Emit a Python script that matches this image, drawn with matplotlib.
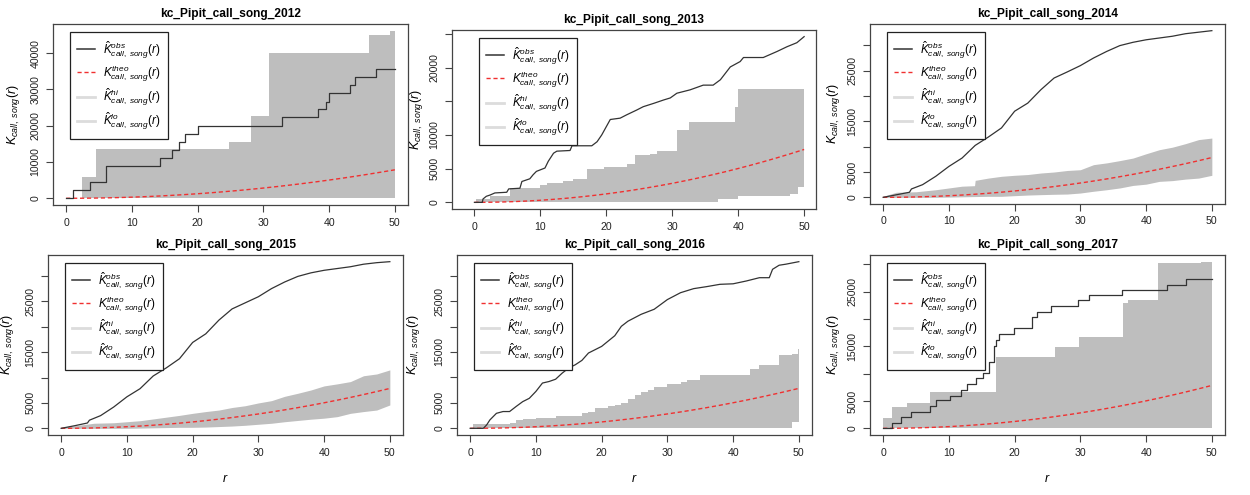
import matplotlib
matplotlib.use("Agg")
import matplotlib.pyplot as plt
from matplotlib.lines import Line2D
import numpy as np

plt.rcParams['font.family'] = ['Liberation Sans', 'DejaVu Sans']
plt.rcParams['mathtext.fontset'] = 'custom'
plt.rcParams['mathtext.rm'] = 'Liberation Sans'
plt.rcParams['mathtext.it'] = 'Liberation Sans:italic'

######################################### DATA
titles = ['kc_Pipit_call_song_2012', 'kc_Pipit_call_song_2013', 'kc_Pipit_call_song_2014',
          'kc_Pipit_call_song_2015', 'kc_Pipit_call_song_2016', 'kc_Pipit_call_song_2017']

# theoretical K (same for every year)
r_theo = [0, 2, 4, 6, 8, 10, 12, 14, 16, 18, 20, 22, 24, 26, 28, 30, 32, 34, 36, 38, 40, 42, 44, 46, 48, 50]
k_theo = [0, 13, 50, 113, 201, 314, 452, 616, 804, 1018, 1257, 1521, 1810, 2124, 2463, 2827,
          3217, 3632, 4072, 4536, 5027, 5542, 6082, 6648, 7238, 7854]

# 2012
r_obs_2012 = [0, 1.0, 3.6, 6.1, 14.3, 16.1, 17.1, 18.1, 20.0, 32.9, 38.3, 39.6, 40.0, 43.2, 43.9, 47.2, 50]
obs_2012 = [0, 2200, 4400, 8900, 11200, 13400, 15500, 17800, 20000, 22300, 24500, 26600, 28900, 31100, 33300, 35600, 35600]
r_env_2012 = [0, 2.4, 4.6, 24.7, 28.1, 30.9, 46.0, 49.3, 50]
hi_2012 = [0, 5900, 13500, 15600, 22600, 40000, 45100, 46200, 46200]
lo_2012 = [0, 0, 0, 0, 0, 0, 0, 0, 0]

# 2013
r_obs_2013 = [0, 1.2, 1.3, 1.8, 2.4, 3.1, 4.9, 5.2, 6.9, 7.2, 8.4, 8.9, 9.4, 10.7, 11.2, 12.0, 12.5, 14.5, 14.8,
              17.8, 18.6, 19.3, 20.6, 22.1, 23.1, 24.6, 25.6, 27.2, 28.7, 29.7, 30.7, 32.7, 34.7, 36.2, 37.3,
              38.8, 40.3, 40.8, 43.8, 45.9, 47.4, 48.9, 50]
obs_2013 = [0, 0, 500, 900, 1100, 1400, 1500, 2000, 2100, 3100, 3500, 4100, 4600, 5100, 6100, 7300, 7600, 7700, 8400,
            8400, 9000, 10000, 12300, 12500, 13000, 13700, 14200, 14700, 15200, 15500, 16200, 16700, 17400, 17400, 18200,
            20100, 20900, 21500, 21500, 22400, 23100, 23700, 24600]
r_env_2013 = [0.3, 2.4, 5.4, 10.0, 11.0, 13.5, 15.0, 17.0, 19.6, 23.1, 24.4, 26.6, 27.7, 30.7, 32.5, 37.0, 39.5,
              40.0, 47.9, 49.1, 50]
hi_2013 = [500, 900, 2200, 2600, 2900, 3100, 3400, 4900, 5300, 5700, 7000, 7200, 7600, 10800, 11900, 11900, 14200,
           16800, 16800, 16800, 16800]
lo_2013 = [0, 0, 0, 0, 0, 0, 0, 0, 0, 0, 0, 0, 0, 0, 0, 500, 500, 900, 1200, 2300, 2300]

# 2014
r_obs_2014 = [0, 2, 4, 4.3, 6, 8, 10, 12, 14, 16, 18, 20, 22, 24, 26, 28, 30, 32, 34, 36, 38, 40, 42, 44, 46, 48, 50]
obs_2014 = [0, 500, 1000, 1650, 2500, 4150, 6100, 7750, 10250, 11900, 13700, 17000, 18600, 21250, 23550, 24750,
            26000, 27500, 28800, 29950, 30600, 31100, 31450, 31800, 32300, 32600, 32900]
r_env_2014 = [0, 2, 5, 8, 10, 12, 13.9, 14, 16, 18, 20, 22, 24, 26, 28, 30, 32, 34, 36, 38, 40, 42, 44, 46, 48, 50]
hi_2014 = [200, 1000, 1100, 1500, 1850, 2200, 2300, 3350, 3800, 4150, 4350, 4500, 4800, 5000, 5300, 5450, 6450,
           6800, 7250, 7750, 8600, 9400, 9900, 10600, 11400, 11700]
lo_2014 = [0, 0, 0, 0, 50, 100, 150, 150, 200, 200, 330, 450, 530, 600, 650, 850, 1200, 1500, 1850, 2350, 2600,
           3150, 3300, 3600, 3800, 4350]

# 2015
r_obs_2015 = [0, 2, 4, 4.3, 6, 8, 10, 12, 14, 16, 18, 20, 22, 24, 26, 28, 30, 32, 34, 36, 38, 40, 42, 44, 46, 48, 50]
obs_2015 = [0, 500, 1050, 1600, 2500, 4200, 6200, 7800, 10300, 11900, 13700, 16900, 18600, 21300, 23500, 24700,
            25900, 27500, 28800, 29900, 30600, 31100, 31450, 31800, 32300, 32600, 32800]
r_env_2015 = [0, 2, 5, 8, 10, 12, 14, 16, 18, 20, 22, 24, 26, 28, 30, 32, 34, 36, 38, 40, 42, 44, 46, 48, 50]
hi_2015 = [200, 500, 1000, 1100, 1300, 1500, 1850, 2200, 2550, 2950, 3300, 3600, 4100, 4450, 5000, 5450, 6300,
           6900, 7550, 8350, 8750, 9200, 10350, 10700, 11500]
lo_2015 = [0, 0, 0, 0, 0, 50, 100, 150, 200, 200, 250, 350, 450, 600, 800, 1000, 1300, 1550, 1800, 2000, 2300,
           2950, 3300, 3600, 4600]

# 2016
r_obs_2016 = [0, 2, 2.5, 3, 4, 5, 6, 7, 8, 9, 10, 11, 12, 13, 14, 15, 16, 17, 18, 20, 22, 23, 24, 26, 28, 29, 30,
              32, 34, 36, 38, 40, 42, 44, 45.5, 46, 47, 48, 50]
obs_2016 = [0, 0, 650, 1650, 2950, 3300, 3300, 4300, 5250, 5900, 7250, 8900, 9200, 9650, 10850, 11850, 12500, 13350,
            14800, 16100, 18200, 20050, 21050, 22400, 23400, 24350, 25300, 26650, 27450, 27850, 28300, 28400, 28950,
            29600, 29600, 31250, 32050, 32250, 32750]
r_env_2016 = [0.5, 6, 7, 8, 10, 13, 17, 18, 19, 21, 22, 23, 24, 25, 26, 27, 28, 30, 32, 33, 35, 42, 42.5, 44, 47,
              49, 49.8, 50]
hi_2016 = [800, 1100, 1650, 1850, 2000, 2500, 2950, 3300, 3950, 4300, 4600, 5050, 5700, 6600, 7050, 7550, 8200,
           8750, 9200, 9550, 10400, 10500, 11650, 12500, 14500, 14650, 15600, 15600]
lo_2016 = [0, 0, 0, 0, 0, 0, 0, 0, 0, 0, 0, 0, 0, 0, 0, 0, 0, 0, 0, 0, 0, 0, 0, 0, 0, 1300, 1300, 1300]

# 2017
r_obs_2017 = [0, 1.3, 2.7, 4.2, 7.2, 8.0, 10.1, 11.9, 12.7, 14.2, 15.2, 16.1, 16.8, 17.2, 17.6, 19.9, 22.6, 23.4,
              25.6, 29.6, 31.3, 36.4, 43.2, 46.0, 50]
obs_2017 = [0, 1000, 2000, 3000, 4100, 5100, 6000, 7100, 8100, 9200, 10200, 12200, 15100, 16200, 17200, 18400,
            20300, 21300, 22400, 23400, 24400, 25300, 26300, 27400, 27400]
r_env_2017 = [0, 1.4, 3.6, 7.2, 17.1, 26.2, 29.8, 36.5, 37.2, 41.8, 48.4, 50]
hi_2017 = [1950, 3950, 4700, 6600, 13100, 14800, 16750, 22850, 23500, 30200, 30500, 30500]
lo_2017 = [0, 0, 0, 0, 0, 0, 0, 0, 0, 0, 0, 0]

x_ticks = [0, 10, 20, 30, 40, 50]
y_ticks_2012 = [0, 10000, 20000, 30000, 40000]
y_labels_2012 = ['0', '10000', '20000', '30000', '40000']
y_ticks_2013 = [0, 5000, 10000, 15000, 20000, 25000]
y_labels_2013 = ['0', '5000', '10000', '', '20000', '']
y_ticks_rest = [0, 5000, 10000, 15000, 20000, 25000, 30000]
y_labels_rest = ['0', '5000', '', '15000', '', '25000', '']

######################################### LAYOUT (pixels: left, right, top, bottom)
W, H = 1250, 495
boxes = [(53, 408, 24, 205), (452, 816, 30, 209), (870, 1225, 24, 204),
         (48, 403, 255, 435), (457, 812, 255, 435), (870, 1225, 255, 435)]
xlims = [(-2, 52), (-3.4, 51.8), (-2, 52), (-2, 52), (-2, 52), (-2, 52)]
# distance from box to the right edge of the y label
ylab_off = [31, 27, 28, 32, 35, 28]

panels = [
    (r_obs_2012, obs_2012, r_env_2012, hi_2012, lo_2012, 'step', 'step', y_ticks_2012, y_labels_2012),
    (r_obs_2013, obs_2013, r_env_2013, hi_2013, lo_2013, 'line', 'step', y_ticks_2013, y_labels_2013),
    (r_obs_2014, obs_2014, r_env_2014, hi_2014, lo_2014, 'line', 'line', y_ticks_rest, y_labels_rest),
    (r_obs_2015, obs_2015, r_env_2015, hi_2015, lo_2015, 'line', 'line', y_ticks_rest, y_labels_rest),
    (r_obs_2016, obs_2016, r_env_2016, hi_2016, lo_2016, 'line', 'step', y_ticks_rest, y_labels_rest),
    (r_obs_2017, obs_2017, r_env_2017, hi_2017, lo_2017, 'step', 'step', y_ticks_rest, y_labels_rest),
]

fig = plt.figure(figsize=(W / 100, H / 100), dpi=100)

legend_handles = [
    Line2D([], [], color='#333333', lw=1.1),
    Line2D([], [], color='#f03030', lw=1.0, linestyle=(0, (3, 2))),
    Line2D([], [], color='#dcdcdc', lw=2.0),
    Line2D([], [], color='#dcdcdc', lw=2.0),
]
legend_labels = [r'$\hat{K}^{obs}_{call,\ song}(r)$', r'$K^{theo}_{call,\ song}(r)$',
                 r'$\hat{K}^{hi}_{call,\ song}(r)$', r'$\hat{K}^{lo}_{call,\ song}(r)$']

for i, (ro, ob, re, hi, lo, obs_kind, env_kind, yt, yl) in enumerate(panels):
    l, r, t, b = boxes[i]
    ax = fig.add_axes([l / W, 1 - b / H, (r - l) / W, (b - t) / H])
    ax.set_facecolor('white')

    if env_kind == 'step':
        ax.fill_between(re, lo, hi, step='post', color='#bebebe', lw=0)
    else:
        ax.fill_between(re, lo, hi, color='#bebebe', lw=0)

    ax.plot(r_theo, k_theo, color='#f03030', lw=1.0, linestyle=(0, (3, 2)))
    if obs_kind == 'step':
        ax.step(ro, ob, where='post', color='#333333', lw=0.9)
    else:
        ax.plot(ro, ob, color='#333333', lw=0.9)

    m = max(max(ob), max(hi))
    ax.set_ylim(-0.04 * m, 1.04 * m)
    ax.set_xlim(*xlims[i])

    ax.set_xticks(x_ticks)
    ax.set_yticks(yt)
    ax.set_yticklabels(yl, rotation=90, va='center')
    ax.tick_params(axis='both', direction='out', length=5, width=0.8, color='#444444',
                   labelsize=7.6, labelcolor='#222222', pad=4)
    for s in ax.spines.values():
        s.set_color('#444444')
        s.set_linewidth(0.9)

    ax.set_title(titles[i], fontsize=8.6, fontweight='bold', pad=5)
    ax.set_ylabel(r'$K_{call,\ song}(r)$', fontsize=9)
    ax.yaxis.set_label_coords(-ylab_off[i] / (r - l), 0.5)
    if i >= 3:
        ax.set_xlabel(r'$r$', fontsize=9)
        ax.xaxis.set_label_coords(0.5, -(473 - b) / (b - t))

    dx = 27 if i == 1 else 17
    leg = ax.legend(legend_handles, legend_labels, loc='upper left',
                    bbox_to_anchor=(dx / (r - l), 1 - 8 / (b - t)), borderaxespad=0,
                    fontsize=8.5, handlelength=1.5, handletextpad=0.7, labelspacing=0.2,
                    borderpad=0.6, fancybox=False, framealpha=1)
    leg.get_frame().set_edgecolor('#222222')
    leg.get_frame().set_linewidth(0.9)

fig.savefig('out.png', dpi=100)
